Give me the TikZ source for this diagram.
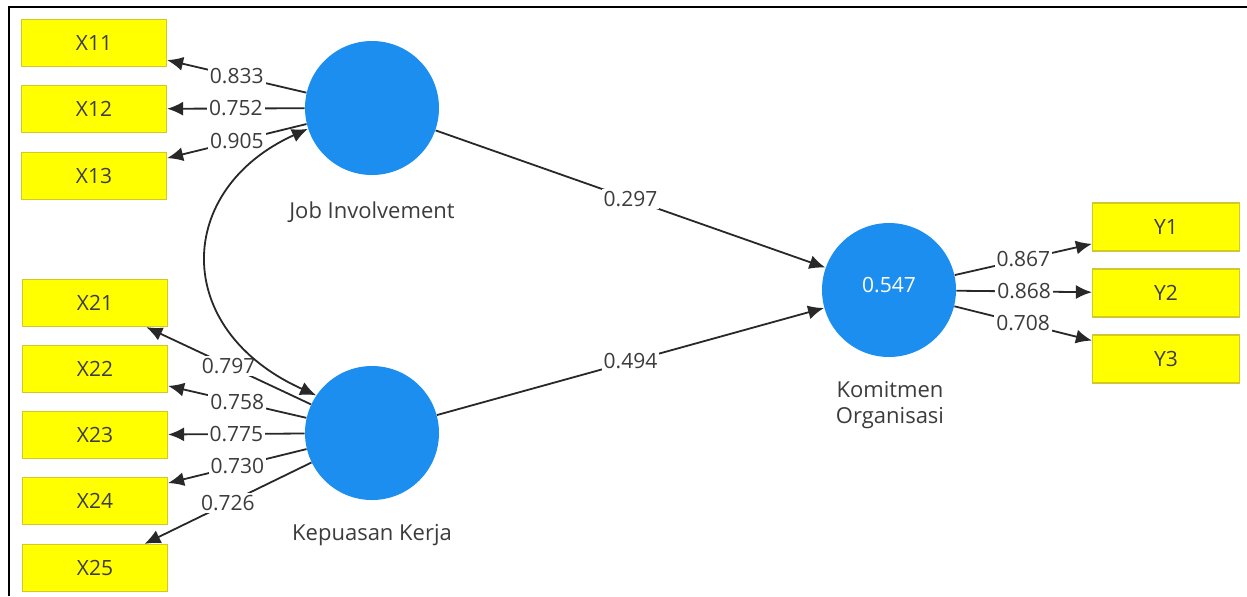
\documentclass[tikz,border=0pt]{standalone}
\usepackage{fontspec}
\setmainfont{Open Sans}
\usetikzlibrary{arrows.meta}
\definecolor{boxyellow}{RGB}{255,255,0}
\definecolor{boxedge}{RGB}{210,200,40}
\definecolor{lvblue}{RGB}{28,142,240}
\definecolor{linegray}{RGB}{40,40,40}
\definecolor{txtgray}{RGB}{60,60,60}
\begin{document}
\begin{tikzpicture}[x=0.5pt,y=-0.5pt,
  ind/.style={draw=boxedge, fill=boxyellow, line width=0.6pt, minimum width=72.5pt, minimum height=23.5pt, inner sep=0pt, font=\fontsize{10.5}{12}\selectfont, text=txtgray},
  lv/.style={circle, fill=lvblue, minimum size=67pt, inner sep=0pt},
  tip/.style={},
  conn/.style={draw=linegray, line width=0.9pt, -{Latex[length=8pt,width=7pt]}},
  lbl/.style={fill=white, inner sep=1pt, font=\fontsize{10.5}{12}\selectfont, text=txtgray},
  captxt/.style={font=\fontsize{11}{12}\selectfont, text=txtgray, align=center}]
\useasboundingbox (0,0) rectangle (1247,596);
\fill[white] (0,0) rectangle (1247,596);
\draw[line width=1.2pt] (9,596) -- (9,7) -- (1247,7);

% indicators
\node[ind] (X11) at (94,43) {X11};
\node[ind] (X12) at (94,109) {X12};
\node[ind] (X13) at (94,176) {X13};
\node[ind] (X21) at (95,303) {X21};
\node[ind] (X22) at (95,369) {X22};
\node[ind] (X23) at (95,435) {X23};
\node[ind] (X24) at (95,501) {X24};
\node[ind] (X25) at (95,568) {X25};
\node[ind, minimum width=73.5pt, minimum height=24pt] (Y1) at (1166,227) {Y1};
\node[ind, minimum width=73.5pt, minimum height=24pt] (Y2) at (1166,293) {Y2};
\node[ind, minimum width=73.5pt, minimum height=24pt] (Y3) at (1166,359) {Y3};

% latent variables
\node[lv] (JI) at (372,108) {};
\node[lv] (KK) at (372,433) {};
\node[lv] (KO) at (889,290) {};
\node[font=\fontsize{10.5}{12}\selectfont, text=white] (R2) at (889,285) {0.547};
\node[captxt] (JIlab) at (372,212) {Job Involvement};
\node[captxt] (KKlab) at (372,535) {Kepuasan Kerja};
\node[captxt, inner sep=0pt] (KOlab) at (890,405) {Komitmen\\[1pt]Organisasi};

% loadings
\draw[conn] (JI) -- node[lbl] {0.833} (X11);
\draw[conn] (JI) -- node[lbl] {0.752} (X12);
\draw[conn] (JI) -- node[lbl] {0.905} (X13);
\draw[conn] (KK) -- node[lbl] {0.797} (X21);
\draw[conn] (KK) -- node[lbl] {0.758} (X22);
\draw[conn] (KK) -- node[lbl] {0.775} (X23);
\draw[conn] (KK) -- node[lbl] {0.730} (X24);
\draw[conn] (KK) -- node[lbl] {0.726} (X25);
\draw[conn] (KO) -- node[lbl] {0.867} (Y1);
\draw[conn] (KO) -- node[lbl] {0.868} (Y2);
\draw[conn] (KO) -- node[lbl] {0.708} (Y3);

% paths
\draw[conn] (JI) -- node[lbl] {0.297} (KO);
\draw[conn] (KK) -- node[lbl] {0.494} (KO);

% covariance
\draw[draw=linegray, line width=0.9pt, {Latex[length=8pt,width=7pt]}-{Latex[length=8pt,width=7pt]}]
  (JI.198) .. controls +(-133,60) and +(-146,-66) .. (KK.146);
\end{tikzpicture}
\end{document}
